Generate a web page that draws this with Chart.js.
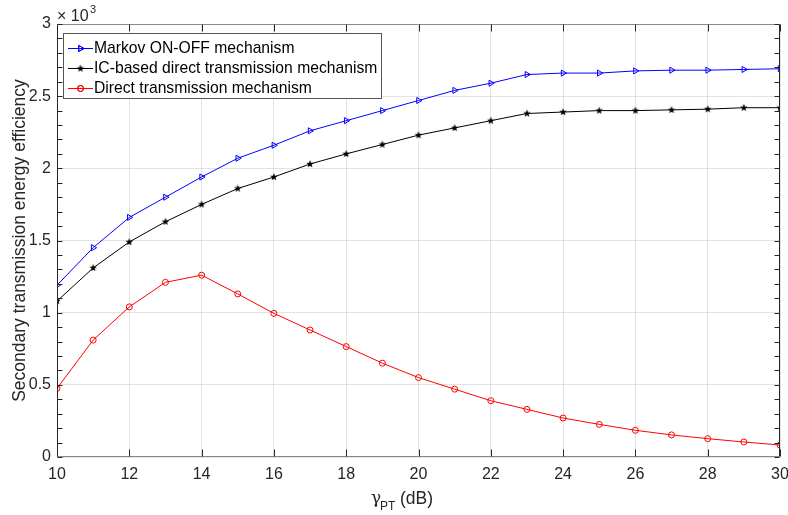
<!DOCTYPE html>
<html>
<head>
<meta charset="utf-8">
<script src="https://cdn.jsdelivr.net/npm/chart.js@4.4.1/dist/chart.umd.min.js"></script>
<style>
  html, body { margin: 0; padding: 0; background: #fff; }
  #chart { display: block; }
</style>
</head>
<body>
<canvas id="chart" width="788" height="515"></canvas>
<script>
// gamma_PT in dB
const X_VALUES = [10, 11, 12, 13, 14, 15, 16, 17, 18, 19, 20, 21, 22, 23, 24, 25, 26, 27, 28, 29, 30];
// energy efficiency, in units of 10^3
const MARKOV = [1.19, 1.45, 1.66, 1.80, 1.94, 2.07, 2.16, 2.26, 2.33, 2.40, 2.47, 2.54, 2.59, 2.65, 2.66, 2.66, 2.675, 2.68, 2.68, 2.685, 2.69];
const IC_BASED = [1.08, 1.31, 1.49, 1.63, 1.75, 1.86, 1.94, 2.03, 2.10, 2.165, 2.23, 2.28, 2.33, 2.38, 2.39, 2.40, 2.40, 2.405, 2.41, 2.42, 2.42];
const DIRECT = [0.475, 0.81, 1.04, 1.21, 1.26, 1.13, 0.995, 0.88, 0.765, 0.65, 0.55, 0.47, 0.39, 0.33, 0.27, 0.226, 0.185, 0.153, 0.127, 0.104, 0.083];
const SERIES_LABELS = ["Markov ON-OFF mechanism", "IC-based direct transmission mechanism", "Direct transmission mechanism"];

const AXIS_COLOR = "#262626";
const FONT = "Liberation Sans, Arial, sans-serif";

function makeStar(radius, color) {
  const c = document.createElement("canvas");
  const size = Math.ceil(radius * 2) + 2;
  c.width = size;
  c.height = size;
  const ctx = c.getContext("2d");
  const cx = size / 2;
  const cy = size / 2;
  ctx.beginPath();
  for (let i = 0; i < 10; i++) {
    const r = i % 2 === 0 ? radius : radius * 0.42;
    const a = -Math.PI / 2 + (i * Math.PI) / 5;
    const px = cx + r * Math.cos(a);
    const py = cy + r * Math.sin(a);
    if (i === 0) ctx.moveTo(px, py);
    else ctx.lineTo(px, py);
  }
  ctx.closePath();
  ctx.fillStyle = color;
  ctx.fill();
  return c;
}

const starMarker = makeStar(4, "#000");

function toPoints(values) {
  return values.map((v, i) => ({ x: X_VALUES[i], y: v }));
}

// ticks inside the box, box outline, labels and legend
const decorations = {
  id: "decorations",
  afterDraw(chart) {
    const { ctx, chartArea: a, scales } = chart;
    const xs = scales.x;
    const ys = scales.y;
    const L = Math.round(a.left) + 0.5;
    const R = Math.round(a.right) - 0.5;
    const T = Math.round(a.top) + 0.5;
    const B = Math.round(a.bottom) - 0.5;
    ctx.save();
    ctx.lineWidth = 1;

    // box: horizontal edges look lighter in the original
    ctx.strokeStyle = "#8a8a8a";
    ctx.beginPath();
    ctx.moveTo(L, T); ctx.lineTo(R, T);
    ctx.moveTo(L, B); ctx.lineTo(R, B);
    ctx.stroke();
    ctx.strokeStyle = AXIS_COLOR;
    ctx.beginPath();
    ctx.moveTo(L, T); ctx.lineTo(L, B);
    ctx.moveTo(R, T); ctx.lineTo(R, B);

    // x major ticks, bottom and top
    for (let v = 10; v <= 30; v += 2) {
      const px = Math.round(xs.getPixelForValue(v)) + 0.5;
      ctx.moveTo(px, B);
      ctx.lineTo(px, B - 7);
      ctx.moveTo(px, T);
      ctx.lineTo(px, T + 7);
    }
    // y minor ticks, left and right
    for (let k = 0; k <= 30; k++) {
      const py = Math.round(ys.getPixelForValue(k / 10)) + 0.5;
      ctx.moveTo(L, py);
      ctx.lineTo(L + 5, py);
      ctx.moveTo(R, py);
      ctx.lineTo(R - 5, py);
    }
    ctx.stroke();

    // exponent label
    ctx.fillStyle = AXIS_COLOR;
    ctx.textBaseline = "alphabetic";
    ctx.textAlign = "left";
    ctx.font = "16px " + FONT;
    ctx.fillText("\u00d7 10", 57, 21);
    ctx.font = "11px " + FONT;
    ctx.fillText("3", 90, 13);

    // x title
    ctx.font = "17px DejaVu Serif, serif";
    ctx.fillText("\u03b3", 371, 503);
    ctx.font = "12px " + FONT;
    ctx.fillText("PT", 380, 510);
    ctx.font = "17.5px " + FONT;
    ctx.fillText("(dB)", 400, 504);

    // y title
    ctx.save();
    ctx.translate(25, (a.top + a.bottom) / 2);
    ctx.rotate(-Math.PI / 2);
    ctx.textAlign = "center";
    ctx.font = "17.5px " + FONT;
    ctx.fillText("Secondary transmission energy efficiency", 0, 0);
    ctx.restore();

    // legend
    const lx = 63.5, ly = 33.5, lw = 318, lh = 65;
    ctx.fillStyle = "#fff";
    ctx.fillRect(lx, ly, lw, lh);
    ctx.strokeStyle = "#555";
    ctx.strokeRect(lx, ly, lw, lh);
    chart.data.datasets.forEach((ds, i) => {
      const y = 48 + i * 20;
      ctx.strokeStyle = ds.borderColor;
      ctx.lineWidth = 1;
      ctx.beginPath();
      ctx.moveTo(68, y + 0.5);
      ctx.lineTo(93, y + 0.5);
      ctx.stroke();
      if (ds.pointStyle instanceof HTMLCanvasElement) {
        ctx.drawImage(ds.pointStyle, 80.5 - ds.pointStyle.width / 2, y + 0.5 - ds.pointStyle.height / 2);
      } else {
        ctx.fillStyle = "rgba(0,0,0,0)";
        Chart.helpers.drawPoint(ctx, {
          pointStyle: ds.pointStyle,
          rotation: ds.pointRotation || 0,
          radius: ds.pointRadius,
          borderWidth: 1
        }, 80.5, y + 0.5);
        ctx.stroke();
      }
      ctx.fillStyle = "#000";
      ctx.font = "15.7px " + FONT;
      ctx.textBaseline = "middle";
      ctx.fillText(SERIES_LABELS[i], 94, y + 1);
    });

    ctx.restore();
  }
};

const tickFont = { family: FONT, size: 16 };

new Chart(document.getElementById("chart"), {
  type: "line",
  data: {
    datasets: [
      {
        label: SERIES_LABELS[0],
        data: toPoints(MARKOV),
        borderColor: "#0000ff",
        backgroundColor: "rgba(0,0,0,0)",
        borderWidth: 1,
        pointStyle: "triangle",
        pointRotation: 90,
        pointRadius: 3.5,
        pointBorderWidth: 1
      },
      {
        label: SERIES_LABELS[1],
        data: toPoints(IC_BASED),
        borderColor: "#000000",
        backgroundColor: "#000000",
        borderWidth: 1,
        pointStyle: starMarker,
        pointRadius: 4
      },
      {
        label: SERIES_LABELS[2],
        data: toPoints(DIRECT),
        borderColor: "#ff0000",
        backgroundColor: "rgba(0,0,0,0)",
        borderWidth: 1,
        pointStyle: "circle",
        pointRadius: 3,
        pointBorderWidth: 1
      }
    ]
  },
  options: {
    responsive: false,
    animation: false,
    layout: { padding: { top: 24, right: 0, left: 0, bottom: 0 } },
    plugins: {
      legend: { display: false },
      tooltip: { enabled: false }
    },
    scales: {
      x: {
        type: "linear",
        min: 10,
        max: 30,
        afterFit: (scale) => {
          scale.height = 58;
          scale.paddingLeft = 0;
          scale.paddingRight = 8;
        },
        ticks: { stepSize: 2, color: AXIS_COLOR, font: tickFont, padding: 8, maxRotation: 0 },
        grid: { color: "rgba(38,38,38,0.13)", drawTicks: false },
        border: { display: false }
      },
      y: {
        min: 0,
        max: 3,
        afterFit: (scale) => { scale.width = 57; },
        ticks: {
          stepSize: 0.5,
          color: AXIS_COLOR,
          font: tickFont,
          padding: 6,
          callback: (value) => String(value)
        },
        grid: { color: "rgba(38,38,38,0.13)", drawTicks: false },
        border: { display: false }
      }
    }
  },
  plugins: [decorations]
});
</script>
</body>
</html>
